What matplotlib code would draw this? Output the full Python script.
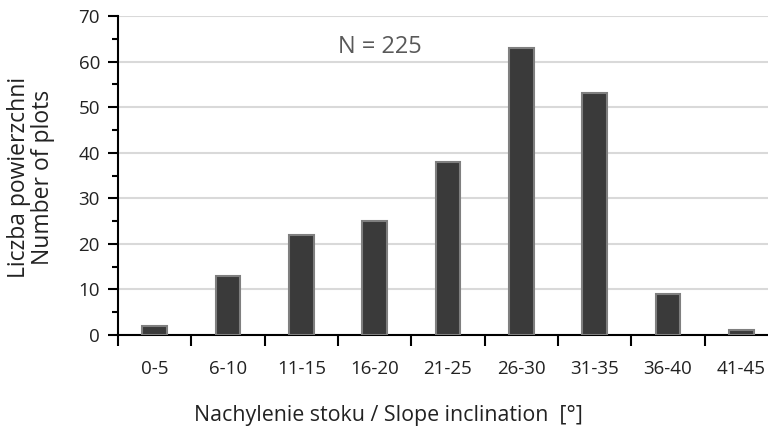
import matplotlib
matplotlib.use("Agg")
import matplotlib.pyplot as plt
from matplotlib.ticker import MultipleLocator

categories = ["0-5", "6-10", "11-15", "16-20", "21-25", "26-30", "31-35", "36-40", "41-45"]
counts = [2, 13, 22, 25, 38, 63, 53, 9, 1]

plt.rcParams['font.family'] = ['Open Sans', 'DejaVu Sans']

fig = plt.figure(figsize=(7.68, 4.28), dpi=100)
W, H = 768, 428
left, right, top, bottom = 118, 778, 16, 335
ax = fig.add_axes([left / W, 1 - bottom / H, (right - left) / W, (bottom - top) / H])

x = list(range(len(categories)))
ax.bar(x, counts, width=0.34, color="#3a3a3a", edgecolor="#7f7f7f", linewidth=1.5, zorder=3)

ax.set_xlim(-0.5, len(categories) - 0.5)
ax.set_ylim(0, 70)
ax.yaxis.set_major_locator(MultipleLocator(10))
ax.yaxis.set_minor_locator(MultipleLocator(5))
ax.yaxis.grid(True, color="#d9d9d9", linewidth=1.5, zorder=0)
ax.set_axisbelow(True)

ax.set_xticks([i - 0.5 for i in x], minor=False)
ax.set_xticklabels([])
ax.set_xticks(x, minor=True)
ax.set_xticklabels(categories, minor=True)
fs = 13.5
ax.tick_params(axis='x', which='major', direction='out', length=8, width=1.5, color='black')
ax.tick_params(axis='x', which='minor', length=0, pad=18, labelsize=fs, labelcolor='#222222')
ax.tick_params(axis='y', which='major', direction='out', length=7, width=1.5, labelsize=fs, labelcolor='#222222', pad=6)
ax.tick_params(axis='y', which='minor', direction='out', length=4, width=1.5)

for s in ['top', 'right']:
    ax.spines[s].set_visible(False)
for s in ['left', 'bottom']:
    ax.spines[s].set_linewidth(1.5)

fig.text(31 / W, 1 - 177 / H, "Liczba powierzchni\nNumber of plots", rotation=90, ha='center', va='center',
         fontsize=16.5, color='#222222', linespacing=1.0, multialignment='center')
fig.text(388 / W, 1 - 415 / H, "Nachylenie stoku / Slope inclination  [°]", ha='center', va='center', fontsize=15.4, color='#222222')
fig.text(380 / W, 1 - 47 / H, "N = 225", ha='center', va='center', fontsize=17, color='#595959')

fig.savefig("out.png", dpi=100)
